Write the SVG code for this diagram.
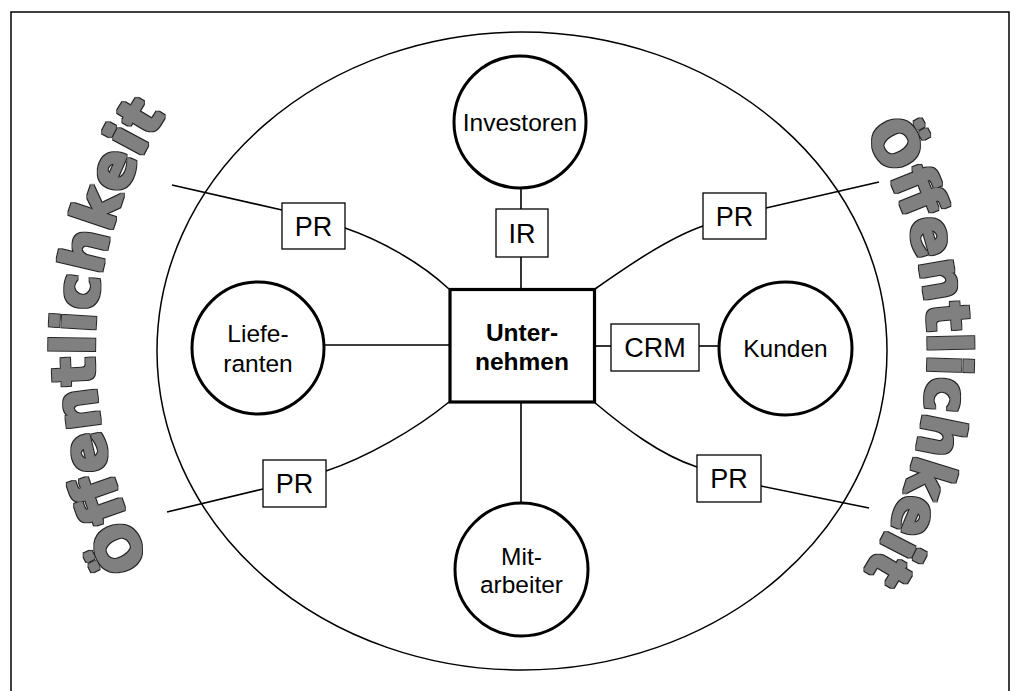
<svg xmlns="http://www.w3.org/2000/svg" width="1019" height="691" viewBox="0 0 1019 691">
  <style>
    .frame { fill: none; stroke: #000; stroke-width: 1.5; }
    .ring { fill: none; stroke: #000; stroke-width: 1.5; }
    .party { fill: #fff; stroke: #000; stroke-width: 3; }
    .core { fill: #fff; stroke: #000; stroke-width: 3.2; }
    .tag { fill: #fff; stroke: #000; stroke-width: 1.3; }
    .link { fill: none; stroke: #000; stroke-width: 1.6; }
    .lbl { font-family: "Liberation Sans", Arial, sans-serif; font-size: 24.5px; text-anchor: middle; fill: #000; }
    .bold { font-weight: bold; }
    .tagtxt { font-family: "Liberation Sans", Arial, sans-serif; font-size: 27px; text-anchor: middle; fill: #000; }
    .public { font-family: "DejaVu Sans", Verdana, sans-serif; font-weight: bold; font-size: 59px; fill: #808080; filter: url(#heavy); }
  </style>
  <defs>
    <path id="arcLeft" d="M149.1,561.2 A428,428 0 0 1 169.3,108.6"/>
    <path id="arcRight" d="M864.3,132.3 A407,407 0 0 1 855.4,584.4"/>
    <!-- thickens the grey lettering slightly and gives it a dark rim -->
    <filter id="heavy" filterUnits="userSpaceOnUse" x="0" y="0" width="1019" height="691">
      <feMorphology in="SourceAlpha" operator="dilate" radius="1.9" result="outer"/>
      <feFlood flood-color="#262626" result="ink"/>
      <feComposite in="ink" in2="outer" operator="in" result="edge"/>
      <feMorphology in="SourceGraphic" operator="dilate" radius="0.8" result="body"/>
      <feMerge>
        <feMergeNode in="edge"/>
        <feMergeNode in="body"/>
      </feMerge>
    </filter>
  </defs>

  <rect width="1019" height="691" fill="#fff"/>
  <path class="frame" d="M11,700 V12 H1009 V700"/>

  <!-- outer boundary of the company environment -->
  <ellipse class="ring" cx="522" cy="351" rx="365" ry="319"/>

  <!-- public sphere labels along the outside -->
  <text class="public"><textPath href="#arcLeft" textLength="470" lengthAdjust="spacing">Öffentlichkeit</textPath></text>
  <text class="public"><textPath href="#arcRight" textLength="464" lengthAdjust="spacing">Öffentlichkeit</textPath></text>

  <g id="connectors">
    <line class="link" x1="521" y1="188" x2="521" y2="209"/>
    <line class="link" x1="521" y1="257" x2="521" y2="289"/>
    <line class="link" x1="324" y1="345" x2="450" y2="345"/>
    <line class="link" x1="594" y1="346" x2="611" y2="346"/>
    <line class="link" x1="699" y1="346" x2="719" y2="346"/>
    <line class="link" x1="521" y1="402" x2="521" y2="503"/>
    <!-- upper left PR -->
    <line class="link" x1="172" y1="185" x2="282" y2="210"/>
    <path class="link" d="M345,228 C380,240 420,262 449,289"/>
    <!-- upper right PR -->
    <line class="link" x1="766" y1="208" x2="879" y2="182"/>
    <path class="link" d="M703,226 C668,238 625,268 595,289"/>
    <!-- lower left PR -->
    <line class="link" x1="167" y1="512" x2="263" y2="489"/>
    <path class="link" d="M326,471 C365,458 415,430 449,402"/>
    <!-- lower right PR -->
    <line class="link" x1="761" y1="486" x2="869" y2="508"/>
    <path class="link" d="M594,402 C625,428 660,455 697,467"/>
  </g>

  <g id="unternehmen">
    <rect class="core" x="450" y="289.5" width="144.5" height="112.5"/>
    <text class="lbl bold" x="522" y="341">Unter-</text>
    <text class="lbl bold" x="522" y="370">nehmen</text>
  </g>

  <g id="investoren">
    <circle class="party" cx="520" cy="122" r="66"/>
    <text class="lbl" x="520" y="131">Investoren</text>
  </g>

  <g id="lieferanten">
    <circle class="party" cx="258" cy="348" r="66"/>
    <text class="lbl" x="258" y="342">Liefe-</text>
    <text class="lbl" x="258" y="372">ranten</text>
  </g>

  <g id="kunden">
    <circle class="party" cx="785.5" cy="348.5" r="66.5"/>
    <text class="lbl" x="785.5" y="357">Kunden</text>
  </g>

  <g id="mitarbeiter">
    <circle class="party" cx="521.5" cy="569.5" r="66.5"/>
    <text class="lbl" x="521.5" y="565">Mit-</text>
    <text class="lbl" x="521.5" y="593">arbeiter</text>
  </g>

  <g id="ir">
    <rect class="tag" x="496" y="209" width="52" height="48"/>
    <text class="tagtxt" x="522" y="243">IR</text>
  </g>

  <g id="crm">
    <rect class="tag" x="611" y="324" width="88" height="47"/>
    <text class="tagtxt" x="655" y="357">CRM</text>
  </g>

  <g id="pr-top-left">
    <rect class="tag" x="282" y="203" width="63" height="46"/>
    <text class="tagtxt" x="313.5" y="236">PR</text>
  </g>

  <g id="pr-top-right">
    <rect class="tag" x="703" y="193" width="63" height="46"/>
    <text class="tagtxt" x="734.5" y="226">PR</text>
  </g>

  <g id="pr-bottom-left">
    <rect class="tag" x="263" y="460" width="63" height="47"/>
    <text class="tagtxt" x="294.5" y="493">PR</text>
  </g>

  <g id="pr-bottom-right">
    <rect class="tag" x="697" y="455" width="64" height="47"/>
    <text class="tagtxt" x="729" y="488">PR</text>
  </g>
</svg>
